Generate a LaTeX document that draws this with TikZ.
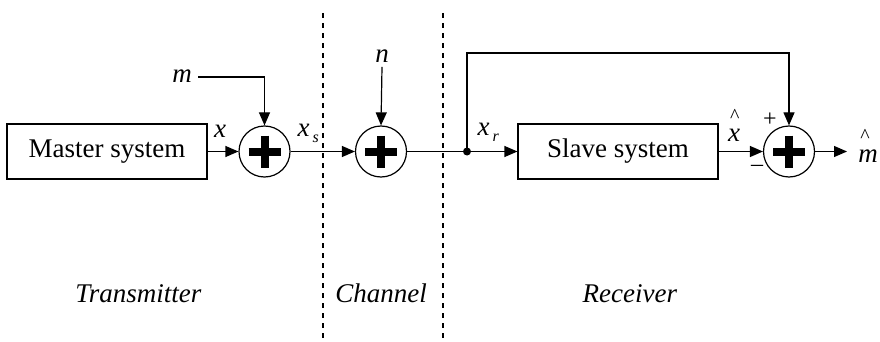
\documentclass[tikz,border=0pt]{standalone}
\usepackage{fontspec}
\setmainfont{Liberation Serif}
\newfontfamily\timesfont{Liberation Serif}
\usetikzlibrary{arrows.meta}
\newcommand\bigfont{\timesfont\fontsize{27}{32}\selectfont}
\newcommand\subfont{\fontsize{16}{18}\selectfont}
\newcommand\withsub[2]{#1\kern3pt\raisebox{-6pt}{\subfont #2}}
% a circumflex set well above the following letter
\newcommand\tallhat[1]{\rlap{\kern2pt\raisebox{20pt}{\fontsize{20}{22}\selectfont\upshape\textasciicircum}}#1}
\begin{document}
\begin{tikzpicture}[x=1pt,y=-1pt,
  line width=1.2pt,
  block/.style={draw, rectangle, minimum width=200pt, minimum height=55pt,
    inner sep=0pt, font=\bigfont},
  sumnode/.style={draw, circle, minimum size=51pt, inner sep=0pt},
  plusbar/.style={line width=8pt},
  arr/.style={-{Triangle[length=13pt,width=11pt]}},
  sig/.style={font=\bigfont\itshape, inner sep=0pt},
  sign/.style={font=\timesfont\fontsize{24}{26}\selectfont, inner sep=0pt},
  region/.style={font=\bigfont\itshape, inner sep=0pt},
  divider/.style={dash pattern=on 5pt off 5pt}]
\useasboundingbox (0,0) rectangle (880,342);

% blocks and summing junctions
\node[block] (master) at (107,151.5) {Master system};
\node[sumnode] (sum1) at (264.5,151.5) {};
\node[sumnode] (sum2) at (381,151.5) {};
\node[block] (slave) at (618,151.5) {Slave system};
\node[sumnode] (sum3) at (789,151.5) {};
\foreach \s in {sum1,sum2,sum3}{
  \draw[plusbar] (\s.center) +(-16,0) -- +(16,0);
  \draw[plusbar] (\s.center) +(0,-16) -- +(0,16);
}

% input labels
\node[sig] (mlab) at (182,76) {m};
\node[sig] (nlab) at (382,56) {n};

% signal labels
\node[sig] (xlab) at (220,131) {x};
\node[sig, anchor=west] (xslab) at (297,133) {\withsub{x}{s}};
\node[sig, anchor=west] (xrlab) at (477,132) {\withsub{x}{r}};
\node[sig, anchor=base] (xhlab) at (734,142) {\tallhat{x}};
\node[sig, anchor=base] (mhlab) at (868,162) {\tallhat{m}};
\node[sign] (plus) at (770,120) {+};
\node[sign] (minus) at (757,168) {\textendash};

% section dividers
\coordinate (d1t) at (323,13);
\coordinate (d1b) at (323,342);
\coordinate (d2t) at (443,13);
\coordinate (d2b) at (443,342);
\draw[divider] (d1t) -- (d1b);
\draw[divider] (d2t) -- (d2b);

% section titles
\node[region, anchor=base east] (tx) at (202,302) {Transmitter};
\node[region, anchor=base] (ch) at (381,302) {Channel};
\node[region, anchor=base west] (rx) at (582,302) {Receiver};

% connectors
\coordinate (tap) at (467,151.5);
\coordinate (fb) at (467,53);
\coordinate (out) at (847,151.5);
\draw[arr] (master.east) -- (sum1.west);
\draw[arr] (mlab.east) ++(6,1) -| (sum1.north);
\draw[arr] (nlab.south) ++(0,4) -- (sum2.north);
\draw[arr] (sum1.east) -- (sum2.west);
\draw (sum2.east) -- (tap);
\draw[arr] (tap) -- (slave.west);
\draw[arr] (tap) -- (fb) -| (sum3.north);
\draw[arr] (slave.east) -- (sum3.west);
\draw[arr] (sum3.east) -- (out);
\fill (tap) circle (4);
\end{tikzpicture}
\end{document}
